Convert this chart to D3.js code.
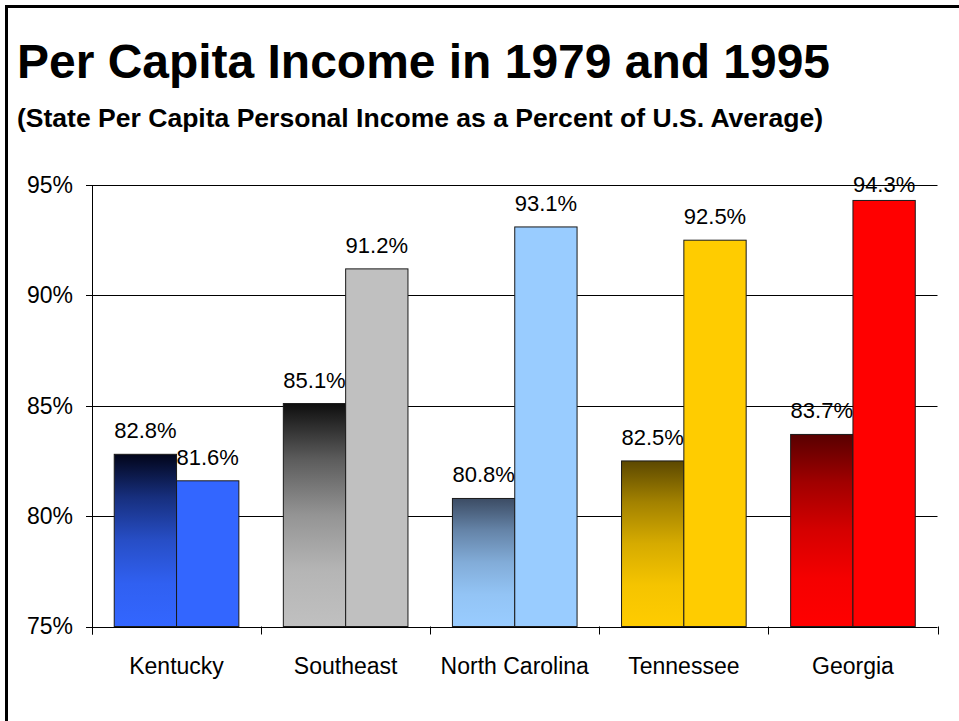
<!DOCTYPE html>
<html>
<head>
<meta charset="utf-8">
<script src="https://cdn.jsdelivr.net/npm/d3@7"></script>
<style>
  body { margin: 0; background: #fff; }
  svg { display: block; font-family: "Liberation Sans", Arial, sans-serif; }
</style>
</head>
<body>
<div id="chart"></div>
<script>
// data
const categories = ["Kentucky", "Southeast", "North Carolina", "Tennessee", "Georgia"];
const values1979 = [82.8, 85.1, 80.8, 82.5, 83.7];
const values1995 = [81.6, 91.2, 93.1, 92.5, 94.3];
const yTicks = [75, 80, 85, 90, 95];
const baseColors = ["#3366FF", "#C0C0C0", "#99CCFF", "#FFCC00", "#FF0000"];
const topColors1979 = ["#02051a", "#0e0e0e", "#3c4c64", "#5c4800", "#580000"];

const W = 959, H = 721;
const plot = {left: 92, right: 937.5, top: 185, bottom: 626.5};

const svg = d3.select("#chart").append("svg")
  .attr("width", W).attr("height", H);

// outer frame (runs off the right and bottom edge)
svg.append("rect")
  .attr("x", 6.5).attr("y", 6.5)
  .attr("width", 1200).attr("height", 1200)
  .attr("fill", "none").attr("stroke", "#000").attr("stroke-width", 3);

// titles
svg.append("text")
  .attr("x", 17).attr("y", 78)
  .attr("font-size", 48).attr("font-weight", "bold")
  .attr("textLength", 813).attr("lengthAdjust", "spacingAndGlyphs")
  .text("Per Capita Income in 1979 and 1995");

svg.append("text")
  .attr("x", 17).attr("y", 127)
  .attr("font-size", 25).attr("font-weight", "bold")
  .attr("textLength", 806).attr("lengthAdjust", "spacingAndGlyphs")
  .text("(State Per Capita Personal Income as a Percent of U.S. Average)");

// scales
const x0 = d3.scaleBand()
  .domain(categories)
  .range([plot.left, plot.right])
  .paddingInner(0.263)
  .paddingOuter(0.1315);

const x1 = d3.scaleBand()
  .domain(["1979", "1995"])
  .range([0, x0.bandwidth()]);

const y = d3.scaleLinear()
  .domain([75, 95])
  .range([plot.bottom, plot.top]);

// gradients for the 1979 bars, dark at top to the base colour
const defs = svg.append("defs");
categories.forEach((c, i) => {
  const g = defs.append("linearGradient")
    .attr("id", "grad" + i)
    .attr("x1", 0).attr("y1", 0).attr("x2", 0).attr("y2", 1);
  const mix = d3.interpolateRgb(topColors1979[i], baseColors[i]);
  [0, 0.25, 0.5, 0.75, 1].forEach(t => {
    g.append("stop")
      .attr("offset", t)
      .attr("stop-color", mix(1 - (1 - t) * (1 - t)));
  });
});

// gridlines
svg.append("g")
  .selectAll("line")
  .data(yTicks)
  .join("line")
  .attr("x1", plot.left - 6).attr("x2", plot.right)
  .attr("y1", d => Math.round(y(d)) + 0.5).attr("y2", d => Math.round(y(d)) + 0.5)
  .attr("stroke", "#000").attr("stroke-width", 1);

// y axis
const yAxis = d3.axisLeft(y)
  .tickValues(yTicks)
  .tickSize(0)
  .tickPadding(19)
  .tickFormat(d => d + "%");

svg.append("g")
  .attr("transform", `translate(${plot.left},0)`)
  .call(yAxis)
  .call(g => g.select(".domain").remove())
  .selectAll("text")
  .attr("font-size", 23)
  .attr("font-family", "Liberation Sans, Arial, sans-serif")
  .attr("fill", "#000");

svg.append("line")
  .attr("x1", plot.left + 0.5).attr("x2", plot.left + 0.5)
  .attr("y1", plot.top).attr("y2", plot.bottom + 8)
  .attr("stroke", "#000");

// category ticks on x axis
const step = x0.step();
const bounds = categories.map((c, i) => plot.left + i * step).concat([plot.right]);
svg.append("g")
  .selectAll("line")
  .data(bounds)
  .join("line")
  .attr("x1", d => Math.round(d) + 0.5).attr("x2", d => Math.round(d) + 0.5)
  .attr("y1", plot.bottom).attr("y2", plot.bottom + 8)
  .attr("stroke", "#000");

// category labels
svg.append("g")
  .selectAll("text")
  .data(categories)
  .join("text")
  .attr("x", d => x0(d) + x0.bandwidth() / 2)
  .attr("y", 674)
  .attr("text-anchor", "middle")
  .attr("font-size", 23)
  .text(d => d);

// bars
const rows = categories.map((c, i) => ({
  cat: c, i,
  bars: [
    {key: "1979", v: values1979[i], fill: `url(#grad${i})`},
    {key: "1995", v: values1995[i], fill: baseColors[i]}
  ]
}));

const groups = svg.append("g")
  .selectAll("g")
  .data(rows)
  .join("g")
  .attr("transform", d => `translate(${x0(d.cat)},0)`);

groups.selectAll("rect")
  .data(d => d.bars)
  .join("rect")
  .attr("x", d => x1(d.key))
  .attr("y", d => y(d.v))
  .attr("width", x1.bandwidth())
  .attr("height", d => y(75) - y(d.v))
  .attr("fill", d => d.fill)
  .attr("stroke", "#1a1a1a")
  .attr("stroke-width", 1);

// value labels, kept inside the chart area near the top
groups.selectAll("text")
  .data(d => d.bars)
  .join("text")
  .attr("x", d => x1(d.key) + x1.bandwidth() / 2)
  .attr("y", d => Math.max(y(d.v) - 16, 192))
  .attr("text-anchor", "middle")
  .attr("font-size", 22)
  .text(d => d.v.toFixed(1) + "%");
</script>
</body>
</html>
